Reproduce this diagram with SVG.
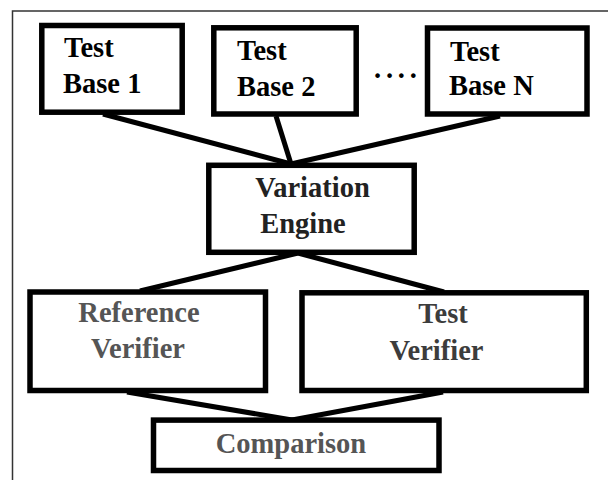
<svg xmlns="http://www.w3.org/2000/svg" width="608" height="480" viewBox="0 0 608 480">
<style>
.box{fill:#fff;stroke:#000;stroke-width:5.5}
.t{font-family:"Liberation Serif","Times New Roman",serif;font-weight:bold;font-size:28.5px}
.c{text-anchor:middle}
.conn line{stroke:#000;stroke-width:5}
</style>
<rect x="0" y="0" width="608" height="480" fill="#fff"/>
<rect x="12.5" y="11" width="610" height="490" fill="none" stroke="#333" stroke-width="1.5"/>
<g id="connectors" class="conn">
<line x1="103" y1="114" x2="291" y2="164"/>
<line x1="276" y1="116" x2="291" y2="164"/>
<line x1="500" y1="116" x2="291" y2="164"/>
<line x1="298" y1="253" x2="140" y2="291"/>
<line x1="298" y1="253" x2="444" y2="292"/>
<line x1="127" y1="392" x2="292" y2="420"/>
<line x1="443" y1="392" x2="292" y2="420"/>
</g>
<g id="testbase1">
<rect class="box" x="41.8" y="25.5" width="140.4" height="86.7"/>
<text class="t" x="64" y="57" fill="#000">Test</text>
<text class="t" x="63" y="93" fill="#000">Base 1</text>
</g>
<g id="testbase2">
<rect class="box" x="213.8" y="27.8" width="142.4" height="86.2"/>
<text class="t" x="237" y="60" fill="#000">Test</text>
<text class="t" x="237" y="96" fill="#000">Base 2</text>
</g>
<text id="dots" class="t" x="374" y="77.5" fill="#000" letter-spacing="4.8">....</text>
<g id="testbaseN">
<rect class="box" x="427.5" y="28" width="159.5" height="86"/>
<text class="t" x="450" y="61" fill="#000">Test</text>
<text class="t" x="449" y="95" fill="#000">Base N</text>
</g>
<g id="variation">
<rect class="box" x="208.8" y="165.3" width="205.4" height="87"/>
<text class="t c" x="312.5" y="197" fill="#222">Variation</text>
<text class="t c" x="303" y="233" fill="#222">Engine</text>
</g>
<g id="refverifier">
<rect class="box" x="30" y="292" width="235.5" height="98.5"/>
<text class="t c" x="139" y="321.5" fill="#555">Reference</text>
<text class="t c" x="138" y="358" fill="#555">Verifier</text>
</g>
<g id="testverifier">
<rect class="box" x="302" y="292.8" width="284.3" height="97.7"/>
<text class="t c" x="443" y="323" fill="#3c3c3c">Test</text>
<text class="t c" x="436.5" y="360" fill="#3c3c3c">Verifier</text>
</g>
<g id="comparison">
<rect class="box" x="153.5" y="420.1" width="285.5" height="50.4"/>
<text class="t c" x="291" y="453" fill="#555">Comparison</text>
</g>
</svg>
